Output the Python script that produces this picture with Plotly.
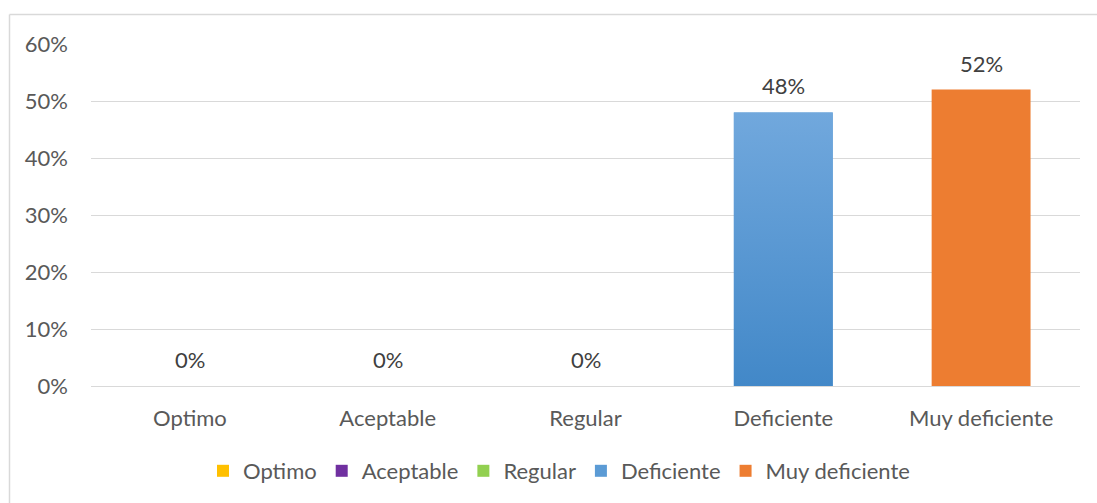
import plotly.graph_objects as go

categories = ["Optimo", "Aceptable", "Regular", "Deficiente", "Muy deficiente"]
values = [0.0, 0.0, 0.0, 0.48, 0.52]
colors = ["#FFC000", "#7030A0", "#92D050", "#5B9BD5", "#ED7D31"]
gradients = {"Deficiente": ("#4288C8", "#71A8DD")}
y_ticks = [0, 0.1, 0.2, 0.3, 0.4, 0.5, 0.6]

FONT = "Lato"
GREY = "#595959"
FS = 22
BAR_W = 0.5

positions = list(range(len(categories)))

fig = go.Figure()
for i, cat, val, col in zip(positions, categories, values, colors):
    fig.add_trace(go.Bar(
        x=[i], y=[val], name=cat, width=BAR_W,
        marker=dict(color=col, line=dict(width=0)),
        hoverinfo="skip",
    ))
    if cat in gradients and val > 0:
        c0, c1 = gradients[cat]
        xl, xr = i - BAR_W / 2, i + BAR_W / 2
        fig.add_trace(go.Scatter(
            x=[xl, xr, xr, xl, xl], y=[0, 0, val, val, 0],
            mode="lines", fill="toself", line=dict(width=0),
            fillgradient=dict(type="vertical",
                              colorscale=[[0, c0], [1, c1]]),
            showlegend=False, hoverinfo="skip",
        ))
    fig.add_annotation(
        x=i, y=val, text=f"{val*100:.0f}%", showarrow=False,
        yanchor="bottom", yshift=11,
        font=dict(family=FONT, size=FS, color="#404040"),
    )

W, H = 1097, 503
ml, mr, mt, mb = 91, 17, 44, 116
pw, ph = W - ml - mr, H - mt - mb

def px_x(px):
    return (px - ml) / pw

def px_y(py):
    return (H - mb - py) / ph

fig.add_shape(type="line", xref="paper", yref="paper",
              x0=px_x(9.5), x1=px_x(9.5), y0=px_y(510), y1=px_y(14.5),
              line=dict(color="#D9D9D9", width=1.5))
fig.add_shape(type="line", xref="paper", yref="paper",
              x0=px_x(9.5), x1=px_x(1100), y0=px_y(14.5), y1=px_y(14.5),
              line=dict(color="#D9D9D9", width=1.5))

fig.update_layout(
    width=W, height=H,
    margin=dict(l=ml, r=mr, t=mt, b=mb),
    plot_bgcolor="white", paper_bgcolor="white",
    barmode="overlay",
    font=dict(family=FONT, size=FS, color=GREY),
    showlegend=True,
    legend=dict(orientation="h", x=px_x(559), xanchor="center",
                y=px_y(471), yanchor="middle",
                font=dict(family=FONT, size=FS, color=GREY),
                itemwidth=30, tracegroupgap=0),
    xaxis=dict(range=[-0.5, len(categories) - 0.5],
               tickvals=positions, ticktext=categories,
               showline=False, ticks="", showgrid=False, zeroline=False,
               ticklabelstandoff=17,
               tickfont=dict(family=FONT, size=FS, color=GREY)),
    yaxis=dict(range=[0, 0.6], tickvals=y_ticks, tickformat=".0%",
               showgrid=True, gridcolor="#D9D9D9", gridwidth=1,
               zeroline=True, zerolinecolor="#D9D9D9", zerolinewidth=1,
               showline=False, ticks="", ticklabelstandoff=22,
               tickfont=dict(family=FONT, size=FS, color=GREY)),
)

fig.write_html("out.html")
